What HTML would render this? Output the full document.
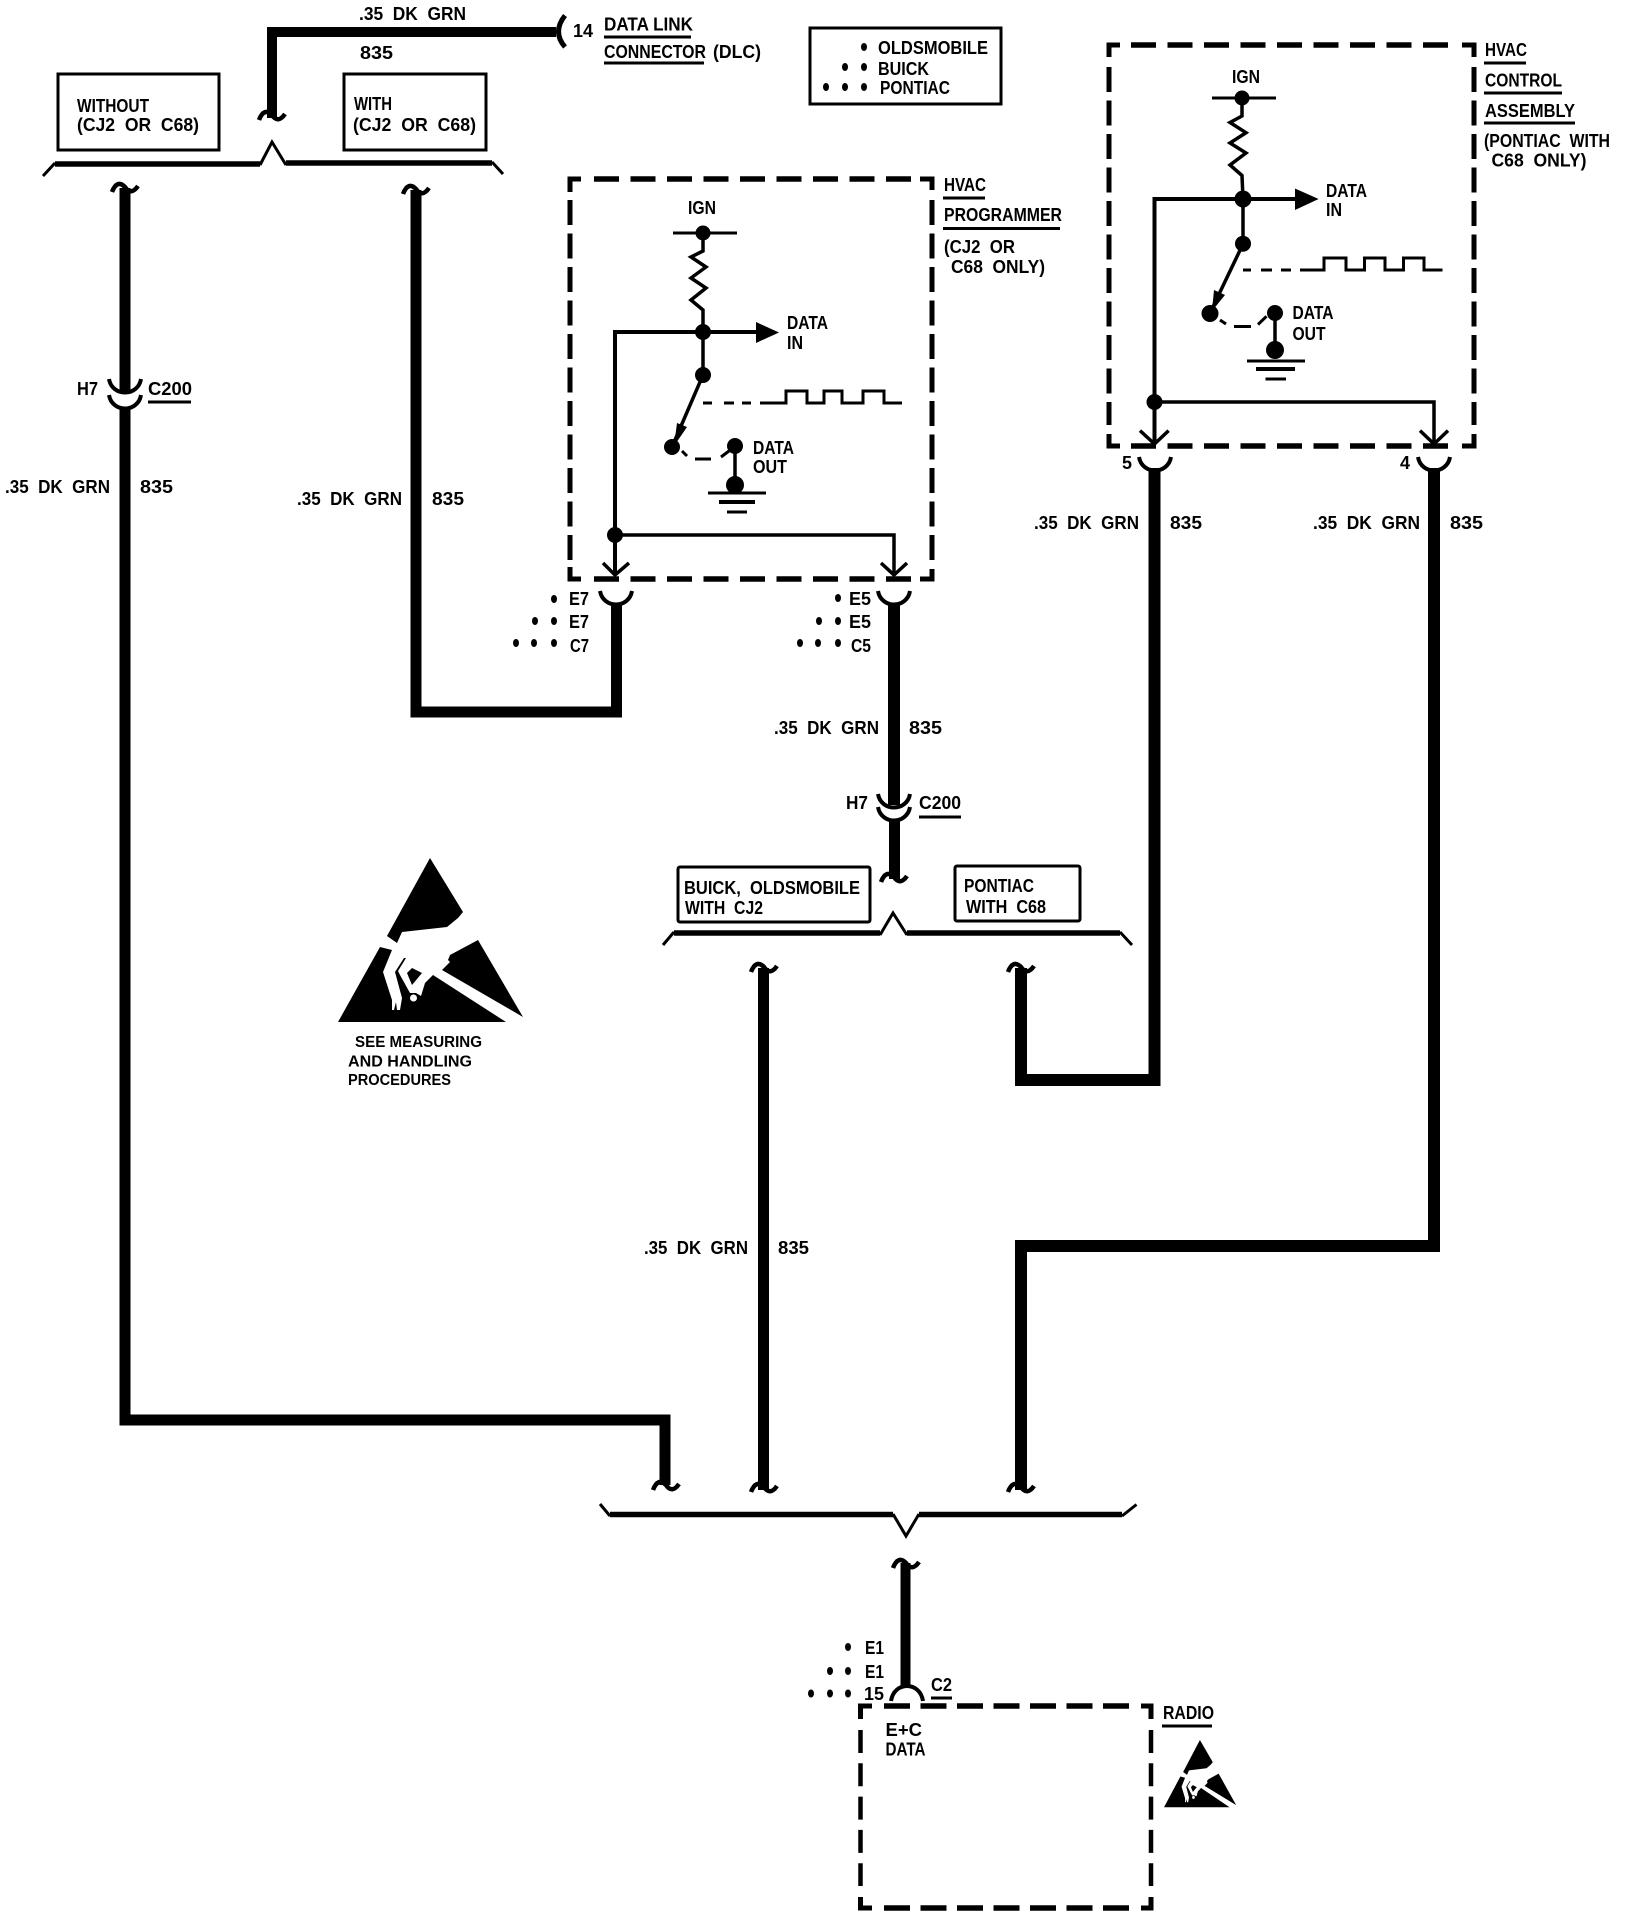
<!DOCTYPE html>
<html><head><meta charset="utf-8"><title>Diagram</title>
<style>
html,body{margin:0;padding:0;background:#fff}
svg{display:block}
text{font-family:"Liberation Sans",sans-serif;font-weight:bold;font-size:18px;fill:#000}
.s{font-size:16px}
.w{fill:none;stroke:#000;stroke-width:11;stroke-linejoin:miter}
.t{fill:none;stroke:#000;stroke-width:3.5}
.a{fill:none;stroke:#000;stroke-width:4}
.h{stroke:#000;stroke-width:5.5;stroke-dasharray:25 11.5;fill:none}
.v{stroke:#000;stroke-width:5;stroke-dasharray:25 8.5;fill:none}
.c{fill:none;stroke:#000;stroke-width:5}
.b{fill:none;stroke:#000;stroke-width:3}
.k{fill:none;stroke:#000;stroke-width:5.5}
.p{fill:none;stroke:#000;stroke-width:3}
</style></head><body>
<svg xmlns="http://www.w3.org/2000/svg" width="1632" height="1920" viewBox="0 0 1632 1920">
<defs>
<path id="sq" d="M-13 4Q-8 -9 0 -1Q6 8 13 -2" fill="none" stroke="#000" stroke-width="4.5"/>
<path id="cup" d="M-16 0C-13 18 13 18 16 0" fill="none" stroke="#000" stroke-width="4"/>
<path id="cap" d="M-16 15C-13 -5 13 -5 16 15" fill="none" stroke="#000" stroke-width="4"/>
<g id="esd">
<polygon points="430,858 463,912 458,918 447,927 402,932 397,943 387,936"/>
<polygon points="478,940 450,955 448,960 450,962 442,970 523,1017"/>
<polygon points="380,947 338,1022 506,1022 433,975 425,983 421,996 416,993 410,993 400,975 398,971 406,958 404,958 395,972 402,998 400,1010 397,1010 396,1002 394,1010 392,1010 392,1000 383,972 392,950"/>
<polygon points="407,973 412,968 422,973 412,985"/>
<circle cx="413.500" cy="998" r="3.500" fill="#fff"/>
</g>
</defs>
<rect width="1632" height="1920" fill="#fff"/>

<!-- top wire -->
<path class="w" d="M272 118V32H556" style="stroke-width:10"/>
<use href="#sq" x="272" y="116"/>
<path class="a" d="M565 15.500Q552 32 565 47" style="stroke-width:5"/>
<text x="359" y="20" textLength="107" lengthAdjust="spacingAndGlyphs">.35&#160;&#160;DK&#160;&#160;GRN</text>
<text x="360" y="59" textLength="33" lengthAdjust="spacingAndGlyphs">835</text>
<text x="573" y="37" textLength="20" lengthAdjust="spacingAndGlyphs">14</text>
<text x="604" y="30.500" textLength="89" lengthAdjust="spacingAndGlyphs">DATA LINK</text>
<line class="b" x1="604" y1="37" x2="691" y2="37"/>
<text x="604" y="58" textLength="102" lengthAdjust="spacingAndGlyphs">CONNECTOR</text>
<line class="b" x1="604" y1="63" x2="704" y2="63"/>
<text x="713" y="58" textLength="48" lengthAdjust="spacingAndGlyphs">(DLC)</text>

<!-- legend -->
<rect class="b" x="810" y="28" width="191" height="76"/>
<text x="878" y="54" textLength="110" lengthAdjust="spacingAndGlyphs">OLDSMOBILE</text>
<text x="878" y="75" textLength="51" lengthAdjust="spacingAndGlyphs">BUICK</text>
<text x="880" y="94" textLength="70" lengthAdjust="spacingAndGlyphs">PONTIAC</text>
<g>
<ellipse cx="864" cy="47" rx="3" ry="4"/><ellipse cx="845" cy="67" rx="3" ry="4"/><ellipse cx="864" cy="67" rx="3" ry="4"/>
<ellipse cx="826" cy="87" rx="3" ry="4"/><ellipse cx="845" cy="87" rx="3" ry="4"/><ellipse cx="864" cy="87" rx="3" ry="4"/>
</g>

<!-- option boxes top -->
<rect class="b" x="58" y="74" width="161" height="76"/>
<text x="77" y="112" textLength="72" lengthAdjust="spacingAndGlyphs">WITHOUT</text>
<text x="77" y="131" textLength="122" lengthAdjust="spacingAndGlyphs">(CJ2&#160;&#160;OR&#160;&#160;C68)</text>
<rect class="b" x="344" y="74" width="142" height="76"/>
<text x="354" y="110" textLength="38" lengthAdjust="spacingAndGlyphs">WITH</text>
<text x="353" y="131" textLength="123" lengthAdjust="spacingAndGlyphs">(CJ2&#160;&#160;OR&#160;&#160;C68)</text>
<path class="k" d="M55 164H260M286 163H492"/>
<path class="p" d="M43 176L55 163M492 162L503 174"/>
<path class="p" d="M260 165L272 142L286 165"/>

<!-- left wire -->
<path class="w" d="M125 408V1420H665V1485"/>
<path class="w" d="M125 188V392"/>
<use href="#sq" x="125" y="188"/>
<use href="#cup" x="125" y="379"/>
<use href="#cup" x="125" y="395"/>
<text x="77" y="395" textLength="21" lengthAdjust="spacingAndGlyphs">H7</text>
<text x="148" y="395" textLength="44" lengthAdjust="spacingAndGlyphs">C200</text>
<line class="b" x1="148" y1="402" x2="191" y2="402"/>
<text x="5" y="493" textLength="105" lengthAdjust="spacingAndGlyphs">.35&#160;&#160;DK&#160;&#160;GRN</text>
<text x="140" y="493" textLength="33" lengthAdjust="spacingAndGlyphs">835</text>

<!-- wire 2 -->
<path class="w" d="M416 190V712H616.500V603"/>
<use href="#sq" x="416" y="190"/>
<text x="297" y="505" textLength="105" lengthAdjust="spacingAndGlyphs">.35&#160;&#160;DK&#160;&#160;GRN</text>
<text x="432" y="505" textLength="32" lengthAdjust="spacingAndGlyphs">835</text>

<!-- HVAC programmer box -->
<line class="h" x1="594" y1="179" x2="911" y2="179"/>
<line class="h" x1="594" y1="579" x2="911" y2="579"/>
<line class="v" x1="570" y1="200" x2="570" y2="560"/>
<line class="v" x1="932" y1="200" x2="932" y2="560"/>
<path class="c" d="M570 192V179H581M920 179H932V190M570 567V579H581M920 579H932V569"/>
<text x="688" y="214" textLength="28" lengthAdjust="spacingAndGlyphs">IGN</text>
<line class="p" x1="673" y1="233" x2="737" y2="233"/>
<circle cx="703" cy="233" r="7.500"/>
<polyline class="t" points="703,233 703,251 691,257 706,267 691,278 706,288 691,300 703,310 703,333"/>
<circle cx="703" cy="332" r="8"/>
<path class="a" d="M615 575V332H757"/>
<polygon points="756,322 779,332.500 756,343"/>
<text x="787" y="329" textLength="41" lengthAdjust="spacingAndGlyphs">DATA</text>
<text x="787" y="349" textLength="16" lengthAdjust="spacingAndGlyphs">IN</text>
<circle cx="615" cy="535" r="8"/>
<path class="t" d="M615 535H894V575"/>
<path class="t" d="M603 563L615 575L629 563M881 563L894 575L907 563"/>
<line class="t" x1="703" y1="332" x2="703" y2="375"/>
<circle cx="703" cy="375" r="8"/>
<line class="t" x1="703" y1="375" x2="672" y2="447"/>
<polygon points="674,446 677,423 687,427"/>
<circle cx="672" cy="447" r="8"/>
<path class="p" d="M703 403H712M724 403H734M742 403H751M760 403H786V391H807V403H824V391H842V403H863V391H884V403H902"/>
<path class="p" d="M682 451L687 456M695 459H711M721 457L729 451"/>
<circle cx="735" cy="446" r="8"/>
<line class="t" x1="735" y1="446" x2="735" y2="485"/>
<circle cx="735" cy="485" r="9"/>
<line class="p" x1="708" y1="493" x2="766" y2="493"/>
<line class="a" x1="719" y1="502" x2="755" y2="502"/>
<line class="p" x1="727" y1="512" x2="747" y2="512"/>
<text x="753" y="454" textLength="41" lengthAdjust="spacingAndGlyphs">DATA</text>
<text x="753" y="473" textLength="34" lengthAdjust="spacingAndGlyphs">OUT</text>
<text x="944" y="191" textLength="42" lengthAdjust="spacingAndGlyphs">HVAC</text>
<line class="b" x1="943" y1="198" x2="985" y2="198"/>
<text x="944" y="221" textLength="118" lengthAdjust="spacingAndGlyphs">PROGRAMMER</text>
<line class="b" x1="943" y1="228.500" x2="1060" y2="228.500"/>
<text x="944" y="253" textLength="71" lengthAdjust="spacingAndGlyphs">(CJ2&#160;&#160;OR</text>
<text x="951" y="273" textLength="94" lengthAdjust="spacingAndGlyphs">C68&#160;&#160;ONLY)</text>

<!-- E7 / E5 -->
<use href="#cup" x="616" y="591"/>
<use href="#cup" x="894" y="591"/>
<text x="569" y="605" textLength="20" lengthAdjust="spacingAndGlyphs">E7</text>
<text x="569" y="628" textLength="20" lengthAdjust="spacingAndGlyphs">E7</text>
<text x="570" y="652" textLength="19" lengthAdjust="spacingAndGlyphs">C7</text>
<text x="849" y="605" textLength="22" lengthAdjust="spacingAndGlyphs">E5</text>
<text x="849" y="628" textLength="22" lengthAdjust="spacingAndGlyphs">E5</text>
<text x="851" y="652" textLength="20" lengthAdjust="spacingAndGlyphs">C5</text>
<g>
<ellipse cx="554" cy="599" rx="3" ry="4"/><ellipse cx="535" cy="621" rx="3" ry="4"/><ellipse cx="554" cy="621" rx="3" ry="4"/>
<ellipse cx="516" cy="643" rx="3" ry="4"/><ellipse cx="534" cy="643" rx="3" ry="4"/><ellipse cx="554" cy="643" rx="3" ry="4"/>
<ellipse cx="838" cy="598" rx="3" ry="4"/><ellipse cx="819" cy="621" rx="3" ry="4"/><ellipse cx="838" cy="621" rx="3" ry="4"/>
<ellipse cx="800" cy="643" rx="3" ry="4"/><ellipse cx="818" cy="643" rx="3" ry="4"/><ellipse cx="838" cy="643" rx="3" ry="4"/>
</g>
<path class="w" d="M894 603V805" style="stroke-width:12"/>
<use href="#cup" x="894" y="794"/>
<use href="#cup" x="894" y="807"/>
<path class="w" d="M894.500 820V879"/>
<use href="#sq" x="894" y="878"/>
<text x="774" y="734" textLength="105" lengthAdjust="spacingAndGlyphs">.35&#160;&#160;DK&#160;&#160;GRN</text>
<text x="909" y="734" textLength="33" lengthAdjust="spacingAndGlyphs">835</text>
<text x="846" y="809" textLength="22" lengthAdjust="spacingAndGlyphs">H7</text>
<text x="919" y="809" textLength="42" lengthAdjust="spacingAndGlyphs">C200</text>
<line class="b" x1="919" y1="817" x2="961" y2="817"/>

<!-- Buick / Pontiac -->
<rect class="b" x="678" y="867" width="192" height="55" rx="2"/>
<text x="684" y="894" textLength="176" lengthAdjust="spacingAndGlyphs">BUICK,&#160;&#160;OLDSMOBILE</text>
<text x="685" y="914" textLength="78" lengthAdjust="spacingAndGlyphs">WITH&#160;&#160;CJ2</text>
<rect class="b" x="955" y="866" width="125" height="55" rx="2"/>
<text x="964" y="892" textLength="70" lengthAdjust="spacingAndGlyphs">PONTIAC</text>
<text x="966" y="913" textLength="80" lengthAdjust="spacingAndGlyphs">WITH&#160;&#160;C68</text>
<path class="k" d="M674 933H880M907 933H1120"/>
<path class="p" d="M663 945L674 932M1120 932L1132 945"/>
<path class="p" d="M880 935L893 913L907 935"/>

<!-- wire 3 -->
<path class="w" d="M763.500 968V1490"/>
<use href="#sq" x="764" y="968"/>
<use href="#sq" x="764" y="1488"/>
<use href="#sq" x="666" y="1486"/>
<text x="644" y="1254" textLength="104" lengthAdjust="spacingAndGlyphs">.35&#160;&#160;DK&#160;&#160;GRN</text>
<text x="778" y="1254" textLength="31" lengthAdjust="spacingAndGlyphs">835</text>

<!-- wire 4 -->
<path class="w" d="M1021 968V1080H1154.500V468" style="stroke-width:12"/>
<use href="#sq" x="1021" y="968"/>
<!-- wire 5 -->
<path class="w" d="M1434 468V1246H1021V1490" style="stroke-width:12"/>
<use href="#sq" x="1021" y="1488"/>
<use href="#cup" x="1155" y="457"/>
<use href="#cup" x="1434" y="457"/>
<text x="1122" y="469" textLength="10" lengthAdjust="spacingAndGlyphs">5</text>
<text x="1400" y="469" textLength="10" lengthAdjust="spacingAndGlyphs">4</text>
<text x="1034" y="529" textLength="105" lengthAdjust="spacingAndGlyphs">.35&#160;&#160;DK&#160;&#160;GRN</text>
<text x="1170" y="529" textLength="32" lengthAdjust="spacingAndGlyphs">835</text>
<text x="1313" y="529" textLength="107" lengthAdjust="spacingAndGlyphs">.35&#160;&#160;DK&#160;&#160;GRN</text>
<text x="1450" y="529" textLength="33" lengthAdjust="spacingAndGlyphs">835</text>

<!-- HVAC control box -->
<line class="h" x1="1131" y1="45" x2="1449" y2="45"/>
<line class="h" x1="1131" y1="446" x2="1449" y2="446"/>
<line class="v" x1="1109" y1="67" x2="1109" y2="425"/>
<line class="v" x1="1474" y1="67" x2="1474" y2="425"/>
<path class="c" d="M1109 57V45H1120M1462 45H1474V57M1109 434V446H1120M1462 446H1474V434"/>
<text x="1232" y="83" textLength="28" lengthAdjust="spacingAndGlyphs">IGN</text>
<line class="p" x1="1212" y1="98" x2="1276" y2="98"/>
<circle cx="1242" cy="98" r="7.500"/>
<polyline class="t" points="1242,98 1242,116 1230,122.500 1246,132.700 1230,143 1246,153 1230,165 1242,175.500 1243,199"/>
<circle cx="1243" cy="199" r="8.500"/>
<path class="a" d="M1154.500 444V199H1296"/>
<polygon points="1295,188.500 1318.600,199 1295,210"/>
<text x="1326" y="197" textLength="41" lengthAdjust="spacingAndGlyphs">DATA</text>
<text x="1326" y="216" textLength="16" lengthAdjust="spacingAndGlyphs">IN</text>
<circle cx="1154.500" cy="402" r="8"/>
<path class="t" d="M1154.500 402H1434V444"/>
<path class="t" d="M1140 430.600L1154.500 444L1168.600 430.600M1420 430.600L1434 444L1448 430.600"/>
<line class="t" x1="1243" y1="199" x2="1243" y2="244"/>
<circle cx="1243" cy="243.700" r="8"/>
<line class="t" x1="1243" y1="244" x2="1210" y2="313"/>
<polygon points="1212,311 1214,290 1225,295"/>
<circle cx="1210" cy="313.500" r="8.500"/>
<path class="p" d="M1243 270H1251M1261 270H1272M1281 270H1291M1300 270H1324V258H1346V270H1364.500V258H1385V270H1403.500V258H1424V270H1442.500"/>
<path class="p" d="M1220 320L1226 324M1234 326.500H1251M1258 324.500L1266.500 316.300"/>
<circle cx="1275" cy="313" r="8"/>
<line class="t" x1="1275" y1="313" x2="1275" y2="350"/>
<circle cx="1275" cy="350" r="9"/>
<line class="p" x1="1247" y1="361" x2="1305" y2="361"/>
<line class="a" x1="1256" y1="369" x2="1295" y2="369"/>
<line class="p" x1="1265.500" y1="379" x2="1286" y2="379"/>
<text x="1292.500" y="319" textLength="41" lengthAdjust="spacingAndGlyphs">DATA</text>
<text x="1292.500" y="340" textLength="33" lengthAdjust="spacingAndGlyphs">OUT</text>
<text x="1485" y="56" textLength="42" lengthAdjust="spacingAndGlyphs">HVAC</text>
<line class="b" x1="1484" y1="63" x2="1526" y2="63"/>
<text x="1485" y="86.500" textLength="77" lengthAdjust="spacingAndGlyphs">CONTROL</text>
<line class="b" x1="1484" y1="93" x2="1562" y2="93"/>
<text x="1485" y="117" textLength="90" lengthAdjust="spacingAndGlyphs">ASSEMBLY</text>
<line class="b" x1="1484" y1="123" x2="1575" y2="123"/>
<text x="1484" y="147" textLength="126" lengthAdjust="spacingAndGlyphs">(PONTIAC&#160;&#160;WITH</text>
<text x="1491.500" y="166.500" textLength="95" lengthAdjust="spacingAndGlyphs">C68&#160;&#160;ONLY)</text>

<!-- lower bracket -->
<path class="k" d="M610 1514.500H893M919 1514.500H1122"/>
<path class="p" d="M600 1504L610 1516M1122 1516L1136.500 1504.500"/>
<path class="p" d="M893 1514L906 1536L919 1514"/>

<!-- wire 6 -->
<path class="w" d="M905.500 1563V1688" style="stroke-width:10"/>
<use href="#sq" x="906" y="1564"/>
<use href="#cap" x="907" y="1686"/>
<text x="865" y="1654" textLength="19" lengthAdjust="spacingAndGlyphs">E1</text>
<text x="865" y="1678" textLength="19" lengthAdjust="spacingAndGlyphs">E1</text>
<text x="864" y="1700" textLength="20" lengthAdjust="spacingAndGlyphs">15</text>
<text x="931" y="1691" textLength="21" lengthAdjust="spacingAndGlyphs">C2</text>
<line class="b" x1="931" y1="1698" x2="952" y2="1698"/>
<g>
<ellipse cx="848" cy="1647" rx="3" ry="4"/><ellipse cx="830" cy="1671" rx="3" ry="4"/><ellipse cx="848" cy="1671" rx="3" ry="4"/>
<ellipse cx="811" cy="1693.500" rx="3" ry="4"/><ellipse cx="830" cy="1693.500" rx="3" ry="4"/><ellipse cx="848" cy="1693.500" rx="3" ry="4"/>
</g>

<!-- radio -->
<line class="h" x1="884" y1="1706" x2="1129" y2="1706" style="stroke-dasharray:26 10.500"/>
<line class="h" x1="884" y1="1908" x2="1129" y2="1908" style="stroke-dasharray:26 10.500"/>
<line class="v" x1="860.500" y1="1730" x2="860.500" y2="1886" style="stroke-dasharray:23 10.300;stroke-width:4.500"/>
<line class="v" x1="1151" y1="1730" x2="1151" y2="1886" style="stroke-dasharray:23 10.300;stroke-width:4.500"/>
<path class="c" d="M860.500 1719V1706H872M1141 1706H1151V1719M860.500 1897V1908H872M1141 1908H1151V1897"/>
<text x="885.500" y="1736" textLength="36.500" lengthAdjust="spacingAndGlyphs">E+C</text>
<text x="885.500" y="1755.600" textLength="40" lengthAdjust="spacingAndGlyphs">DATA</text>
<text x="1163" y="1719" textLength="51" lengthAdjust="spacingAndGlyphs">RADIO</text>
<line class="b" x1="1162" y1="1726" x2="1212" y2="1726"/>

<!-- ESD symbols -->
<use href="#esd"/>
<text class="s" x="355" y="1047" textLength="127" lengthAdjust="spacingAndGlyphs">SEE MEASURING</text>
<text class="s" x="348" y="1066.500" textLength="124" lengthAdjust="spacingAndGlyphs">AND HANDLING</text>
<text class="s" x="348" y="1085" textLength="103" lengthAdjust="spacingAndGlyphs">PROCEDURES</text>
<g transform="translate(1032.200 1388.200) scale(.39 .41)"><use href="#esd"/></g>
</svg>
</body></html>
